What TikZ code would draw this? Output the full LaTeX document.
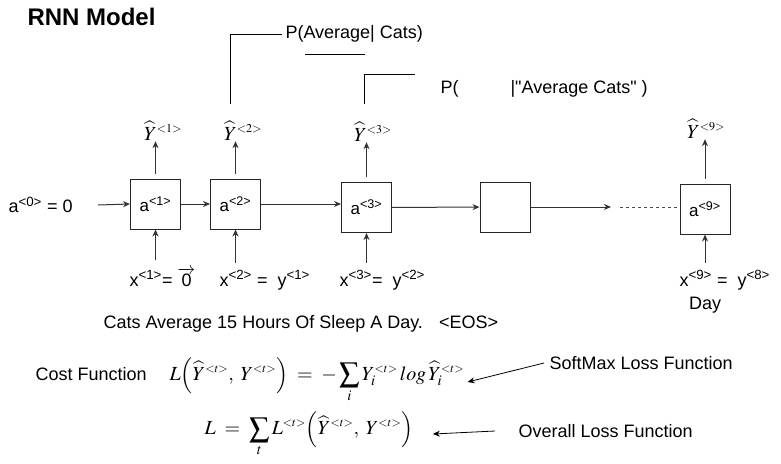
\documentclass[tikz,border=0pt]{standalone}
\usepackage{mathptmx}
\usepackage{fontspec}
\setmainfont{Liberation Sans}
\usetikzlibrary{arrows.meta}
\newcommand{\angl}[1]{{\scriptscriptstyle{<}#1{>}}}
\begin{document}
\begin{tikzpicture}[x=1pt,y=-1pt,
  lbl/.style={font=\fontsize{18}{21}\selectfont},
  cell/.style={draw=black!85,line width=1pt,minimum width=50pt,minimum height=50pt,font=\fontsize{17}{20}\selectfont},
  yhat/.style={anchor=base west,inner sep=1pt,font=\fontsize{20}{23}\selectfont},
  arr/.style={-{Stealth[length=7pt,width=6pt]},line width=1pt,black!80},
  form/.style={anchor=west,font=\fontsize{20}{24}\selectfont}]
      \useasboundingbox[fill=white] (0,0) rectangle (781,463);
      \node[anchor=west,font=\bfseries\fontsize{24}{28}\selectfont] (title) at (24,17) {RNN Model};

      \node[lbl,anchor=west] (a0) at (5,205) {a\textsuperscript{<0>} = 0};
      \node[cell] (a1) at (155.5,204) {a\textsuperscript{<1>}};
      \node[cell] (a2) at (235.5,204) {a\textsuperscript{<2>}};
      \node[cell] (a3) at (366.5,207.5) {a\textsuperscript{<3>}};
      \node[cell] (a4) at (505,207) {};
      \node[cell] (a9) at (705,209) {a\textsuperscript{<9>}};
      \coordinate (gap) at (611,207);

      \node[yhat] (y1) at (143,140) {$\widehat{Y}^{\angl{1}}$};
      \node[yhat] (y2) at (223,140) {$\widehat{Y}^{\angl{2}}$};
      \node[yhat] (y3) at (353,141) {$\widehat{Y}^{\angl{3}}$};
      \node[yhat] (y9) at (686,138) {$\widehat{Y}^{\angl{9}}$};

      \node[lbl,anchor=base west] (x1) at (126,286) {x\textsuperscript{<1>}= $\overrightarrow{\hbox{0}}$};
      \node[lbl,anchor=base west] (x2) at (216,286) {x\textsuperscript{<2>} = \ y\textsuperscript{<1>}};
      \node[lbl,anchor=base west] (x3) at (336,286) {x\textsuperscript{<3>}= \ y\textsuperscript{<2>}};
      \node[lbl,anchor=base west] (x9) at (676,286) {x\textsuperscript{<9>} = \ y\textsuperscript{<8>}};
      \node[lbl] (day) at (705,305) {Day};

      \draw[arr] ([xshift=22pt]a0.east) -- (a1.west);
      \draw[arr] (a1) -- (a2);
      \draw[arr] (a2.east) -- (a2.east -| a3.west);
      \draw[arr] (a3) -- (a4);
      \draw[arr] (a4) -- (gap);
      \draw[dashed,black!70] ([xshift=9pt]gap) -- (gap -| a9.west);

      \foreach \i in {1,2,3,9} {
        \draw[arr] ([yshift=5pt]a\i.north) -- (a\i.north |- y\i.south);
        \draw[arr,shorten <=4pt] (a\i.south |- x\i.north) -- (a\i.south);
      }

      \node[lbl,anchor=west] (p1) at (282,34) {P(Average| Cats)};
      \coordinate (c2) at (230,104);
      \draw (c2) |- (p1.west);
      \draw (305,54) -- (365,54);
      \node[lbl,anchor=west] (p2) at (437,89) {P(\hspace{52pt}|\textquotedbl Average Cats\textquotedbl\ )};
      \coordinate (c3) at (364,104);
      \coordinate (c3b) at (415,74);
      \draw (c3) |- (c3b);

      \node[lbl,anchor=west] (sent) at (100,324) {Cats Average 15 Hours Of Sleep A Day.\hspace{0.9em}<EOS>};

      \node[lbl,anchor=west] (cost) at (32,374) {Cost Function};
      \node[form] (f1) at (166,380) {$\displaystyle L\Bigl(\widehat{Y}^{\angl{t}},\; Y^{\angl{t}}\Bigr) \;=\; -\sum_i Y_i^{\angl{t}}\, log\, \widehat{Y}_i^{\angl{t}}$};
      \node[lbl,anchor=west] (sm) at (546,363) {SoftMax Loss Function};
      \draw[arr,line width=0.8pt,black] ([xshift=-2pt]sm.west) -- ([yshift=-2pt]f1.east);

      \node[form] (f2) at (201,434) {$\displaystyle L \;=\; \sum_t L^{\angl{t}}\Bigl(\widehat{Y}^{\angl{t}},\; Y^{\angl{t}}\Bigr)$};
      \node[lbl,anchor=west] (ol) at (515,431) {Overall Loss Function};
      \draw[arr,line width=0.8pt,black] ([xshift=-20pt]ol.west) -- ([xshift=16pt]f2.east);
    \end{tikzpicture}
\end{document}
